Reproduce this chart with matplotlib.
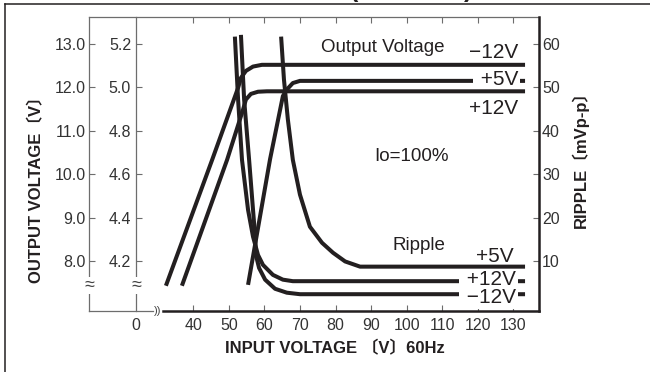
import numpy as np
import matplotlib
matplotlib.use('Agg')
import matplotlib.pyplot as plt
import matplotlib.transforms as mtrans
from matplotlib.lines import Line2D

plt.rcParams['font.family']=['Liberation Sans','Noto Sans CJK JP','DejaVu Sans']

# axis ticks
x_ticks=[40,50,60,70,80,90,100,110,120,130]
y12_ticks=[8.0,9.0,10.0,11.0,12.0,13.0]
y5_ticks=[4.2,4.4,4.6,4.8,5.0,5.2]
ripple_ticks=[10,20,30,40,50,60]

# output voltage -12V (magnitude, 12V scale)
vin_out_m12=[32.3,45.3,52.6,53.4,54.8,56.8,59.3,133.3]
vout_m12=[7.43,10.33,11.99,12.22,12.38,12.48,12.52,12.52]
# output voltage +12V (12V scale)
vin_out_p12=[36.8,49.5,54.0,54.8,56.2,58.2,60.7,133.3]
vout_p12=[7.43,10.33,11.49,11.72,11.85,11.90,11.91,11.91]
# output voltage +5V (5V scale)
vin_out_p5=[55.4,61.6,65.2,66.3,68.0,70.0,72.8,133.3]
vout_p5=[4.09,4.67,4.96,4.99,5.02,5.03,5.03,5.03]

# ripple [mVp-p]
vin_rip_p12=[51.7,52.6,53.7,55.4,56.8,58.2,59.6,62.4,65.2,68.0,133.3]
rip_p12=[61.7,47.2,33.3,21.8,15.6,11.4,9.1,6.8,5.7,5.35,5.35]
vin_rip_m12=[53.4,54.3,55.7,56.8,57.4,57.6,58.5,60.2,63.0,66.3,70.0,133.3]
rip_m12=[62.1,47.2,33.3,21.8,15.6,11.4,8.4,5.7,3.6,2.7,2.35,2.35]
vin_rip_p5=[64.7,65.5,66.6,68.0,70.0,72.8,76.2,79.3,82.7,86.9,133.3]
rip_p5=[61.7,51.8,42.6,33.3,25.3,17.9,14.2,11.9,9.9,8.7,8.7]

W,H=650,372
col='#231f20'
gray='#6d6d6d'
lw_curve=2.9

fig=plt.figure(figsize=(W/100,H/100),dpi=100)

# outer axis (12V scale), left line at x=89px
ax12=fig.add_axes([89/W,1-311/H,(539.3-89)/W,(311-17.3)/H])
ax12.set_xlim(0,1)
ax12.set_ylim(6.848,13.615)
ax12.set_xticks([])
ax12.set_yticks(y12_ticks)
ax12.set_yticklabels(['%.1f'%v for v in y12_ticks])
ax12.tick_params(axis='y',direction='in',length=4.3,width=0.8,color=gray,
                 labelsize=11.5,labelcolor='#333333',pad=2.2)
ax12.spines['right'].set_visible(False)
for s in ['left','top','bottom']:
    ax12.spines[s].set_color(gray)
    ax12.spines[s].set_linewidth(0.9)
ax12.spines['bottom'].set_bounds(0,(153-89)/450.3)

# main axis (5V scale + input voltage)
ax=fig.add_axes([136/W,1-311/H,(539.3-136)/W,(311-17.3)/H])
ax.patch.set_visible(False)
ax.set_xlim(23.89,137.31)
ax.set_ylim(3.9696,5.323)
ax.set_xticks(x_ticks)
ax.set_xticklabels([str(v) for v in x_ticks])
ax.tick_params(axis='x',direction='in',length=4.3,width=0.8,color=gray,top=True,
               labelsize=11.5,labelcolor='#333333',pad=5)
ax.set_yticks(y5_ticks)
ax.set_yticklabels(['%.1f'%v for v in y5_ticks])
ax.tick_params(axis='y',direction='in',length=4.3,width=0.8,color=gray,
               labelsize=11.5,labelcolor='#333333',pad=3.6)
ax.spines['top'].set_visible(False)
ax.spines['right'].set_visible(False)
ax.spines['left'].set_color(gray)
ax.spines['left'].set_linewidth(0.9)
ax.spines['bottom'].set_color(col)
ax.spines['bottom'].set_linewidth(1.8)
ax.spines['bottom'].set_bounds(31.5,137.31)
ax.annotate('0',xy=(0,0),xycoords='axes fraction',xytext=(0,-5),textcoords='offset points',
            ha='center',va='top',fontsize=11.5,color='#333333')

# ripple axis
axr=ax.twinx()
axr.set_ylim(-1.52,66.15)
axr.set_yticks(ripple_ticks)
axr.set_yticklabels([str(v) for v in ripple_ticks])
axr.tick_params(axis='y',direction='in',length=4.3,width=0.8,color=gray,
                labelsize=11.5,labelcolor='#333333',pad=2)
for s in ['left','top','bottom']:
    axr.spines[s].set_visible(False)
axr.spines['right'].set_color(col)
axr.spines['right'].set_linewidth(1.8)

tr12=mtrans.blended_transform_factory(ax.transData,ax12.transData)
trr=mtrans.blended_transform_factory(ax.transData,axr.transData)
kw=dict(color=col,lw=lw_curve,solid_capstyle='butt',solid_joinstyle='round',clip_on=False)

# output voltage curves
ax.plot(vin_out_m12,vout_m12,transform=tr12,zorder=4,**kw)
ax.plot(vin_out_p12,vout_p12,transform=tr12,zorder=4,**kw)
ax.plot(vin_out_p5,vout_p5,zorder=2,**kw)
# ripple curves
ax.plot(vin_rip_p12,rip_p12,transform=trr,zorder=2,**kw)
ax.plot(vin_rip_m12,rip_m12,transform=trr,zorder=4,**kw)
ax.plot(vin_rip_p5,rip_p5,transform=trr,zorder=4,**kw)

wbox=dict(boxstyle='square,pad=0.08',fc='white',ec='none')
tkw=dict(transform=trr,color=col)
ax.text(93.4,59.1,'Output Voltage',ha='center',va='center',fontsize=13.5,zorder=6,**tkw)
ax.text(131.3,58.0,'\u221212V',ha='right',va='center',fontsize=15,zorder=6,**tkw)
ax.text(131.3,51.8,' +5V',ha='right',va='center',fontsize=15,zorder=3,bbox=wbox,**tkw)
ax.text(131.3,45.1,'+12V',ha='right',va='center',fontsize=15,zorder=6,**tkw)
ax.text(101.3,34.0,'Io=100%',ha='center',va='center',fontsize=13.5,zorder=6,**tkw)
ax.text(103.4,13.5,'Ripple',ha='center',va='center',fontsize=13.5,zorder=6,**tkw)
ax.text(130.2,11.0,'+5V',ha='right',va='center',fontsize=15,zorder=6,**tkw)
ax.text(130.75,5.7,' +12V',ha='right',va='center',fontsize=15,zorder=3,bbox=wbox,**tkw)
ax.text(130.75,1.6,' \u221212V',ha='right',va='center',fontsize=15,zorder=5,bbox=wbox,**tkw)

# axis titles
fig.text(36/W,1-186/H,'OUTPUT VOLTAGE\u3014V\u3015',rotation=90,ha='center',va='center',
         fontsize=12,fontweight='bold',color=col)
fig.text(580/W,1-155/H,'RIPPLE\u3014mVp-p\u3015',rotation=90,ha='center',va='center',
         fontsize=12,fontweight='bold',color=col)
fig.text(335/W,1-348/H,'INPUT VOLTAGE \u3014V\u301560Hz',ha='center',va='center',
         fontsize=12,fontweight='bold',color=col)

# axis break marks
bk=dict(boxstyle='square,pad=0.0',fc='white',ec='none')
fig.text(89/W,1-285/H,'\u2248',ha='center',va='center',fontsize=13,color='#444444',bbox=bk)
fig.text(136/W,1-285/H,'\u2248',ha='center',va='center',fontsize=13,color='#444444',bbox=bk)
fig.text(158/W,1-311/H,'))',ha='center',va='center',fontsize=8,color='#444444')

# title (cut off at the top edge) and frame
fig.text(411/W,1+3/H,'(TYPICAL)',ha='center',va='baseline',fontsize=18,fontweight='bold',color=col)
fig.add_artist(Line2D([5/W,5/W],[0,1-4.3/H],transform=fig.transFigure,color=col,lw=1.1))
fig.add_artist(Line2D([5/W,1],[1-4.3/H,1-4.3/H],transform=fig.transFigure,color=col,lw=1.1))

fig.savefig('out.png',dpi=100)
